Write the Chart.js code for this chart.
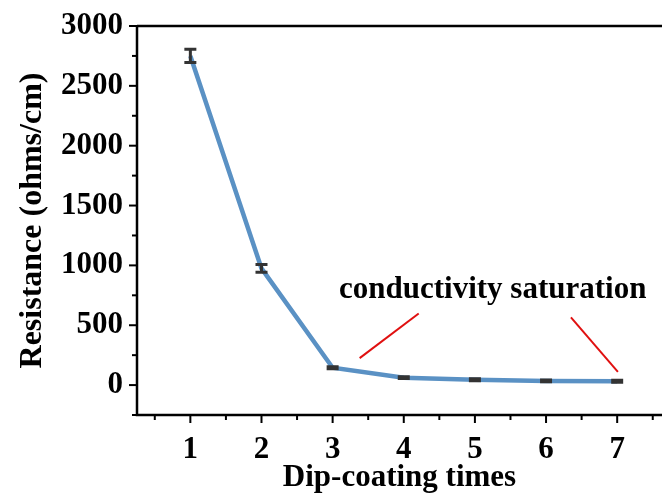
<!DOCTYPE html>
<html>
<head>
<meta charset="utf-8">
<script src="https://cdn.jsdelivr.net/npm/chart.js@4.4.0/dist/chart.umd.min.js"></script>
<style>
  html, body { margin: 0; padding: 0; background: #fff; }
  #wrap { width: 662px; height: 497px; }
</style>
</head>
<body>
<div id="wrap"><canvas id="resChart" width="662" height="497"></canvas></div>
<script>
// data
const dipTimes = [1, 2, 3, 4, 5, 6, 7];
const resistance = [2750, 975, 145, 62, 45, 35, 32];
const resErr = [55, 33, 8, 8, 8, 8, 8];
const xTicks = [1, 2, 3, 4, 5, 6, 7];
const yTicks = [0, 500, 1000, 1500, 2000, 2500, 3000];
const noteText = 'conductivity saturation';
// annotation lines in data units: [x1, y1, x2, y2]
const noteLines = [
    [3.38, 225, 4.21, 598],
    [6.35, 565, 7.01, 110]
];

const serif = '"Liberation Serif", "Times New Roman", serif';

// error bars, ticks, frame and the note
const extrasPlugin = {
    id: 'extras',
    afterDatasetsDraw(chart) {
        const ctx = chart.ctx;
        const xs = chart.scales.x;
        const ys = chart.scales.y;
        const area = chart.chartArea;

        // error bars
        ctx.save();
        ctx.strokeStyle = '#333';
        ctx.lineWidth = 3;
        dipTimes.forEach((t, i) => {
            const px = xs.getPixelForValue(t);
            const top = ys.getPixelForValue(resistance[i] + resErr[i]);
            const bot = ys.getPixelForValue(resistance[i] - resErr[i]);
            ctx.beginPath();
            ctx.moveTo(px, top); ctx.lineTo(px, bot);
            ctx.moveTo(px - 6, top); ctx.lineTo(px + 6, top);
            ctx.moveTo(px - 6, bot); ctx.lineTo(px + 6, bot);
            ctx.stroke();
        });
        ctx.restore();

        // frame: left, bottom, top
        ctx.save();
        ctx.strokeStyle = '#000';
        ctx.lineWidth = 2.5;
        ctx.beginPath();
        ctx.moveTo(area.left, area.top);
        ctx.lineTo(chart.width, area.top);
        ctx.moveTo(area.left, area.top);
        ctx.lineTo(area.left, area.bottom);
        ctx.lineTo(chart.width, area.bottom);
        ctx.stroke();

        // x ticks every 0.5
        ctx.lineWidth = 2;
        for (let v = 0.5; v <= xs.max; v += 0.5) {
            const px = xs.getPixelForValue(v);
            const len = Number.isInteger(v) ? 8 : 5;
            ctx.beginPath();
            ctx.moveTo(px, area.bottom);
            ctx.lineTo(px, area.bottom + len);
            ctx.stroke();
        }
        // y ticks every 250
        for (let v = -250; v <= ys.max; v += 250) {
            const py = ys.getPixelForValue(v);
            const len = v % 500 === 0 ? 8 : 5;
            ctx.beginPath();
            ctx.moveTo(area.left, py);
            ctx.lineTo(area.left - len, py);
            ctx.stroke();
        }
        ctx.restore();

        // annotation
        ctx.save();
        ctx.strokeStyle = '#e01010';
        ctx.lineWidth = 2;
        noteLines.forEach(l => {
            ctx.beginPath();
            ctx.moveTo(xs.getPixelForValue(l[0]), ys.getPixelForValue(l[1]));
            ctx.lineTo(xs.getPixelForValue(l[2]), ys.getPixelForValue(l[3]));
            ctx.stroke();
        });
        ctx.fillStyle = '#000';
        ctx.font = 'bold 31px ' + serif;
        ctx.textAlign = 'center';
        ctx.textBaseline = 'alphabetic';
        ctx.fillText(noteText, xs.getPixelForValue(5.25), ys.getPixelForValue(730));
        ctx.restore();
    }
};

const ctx = document.querySelector('#resChart').getContext('2d');
new Chart(ctx, {
    type: 'line',
    data: {
        datasets: [{
            label: 'Resistance',
            data: dipTimes.map((t, i) => ({ x: t, y: resistance[i] })),
            borderColor: '#5a91c4',
            borderWidth: 4.5,
            pointRadius: 0,
            tension: 0,
        }]
    },
    options: {
        responsive: false,
        animation: false,
        layout: { padding: { top: 26, right: 0, left: 0, bottom: 0 } },
        plugins: {
            legend: { display: false },
            tooltip: { enabled: false }
        },
        scales: {
            x: {
                type: 'linear',
                min: 0.25,
                max: 7.63,
                border: { display: false },
                grid: { display: false, drawTicks: false },
                afterBuildTicks: scale => {
                    scale.ticks = xTicks.map(v => ({ value: v }));
                },
                afterFit: scale => {
                    scale.height = 82;
                    scale.paddingLeft = 0;
                    scale.paddingRight = 0;
                },
                ticks: {
                    padding: 16,
                    color: '#000',
                    maxRotation: 0,
                    font: { family: serif, size: 31, weight: 'bold' }
                },
                title: {
                    display: true,
                    text: 'Dip-coating times',
                    color: '#000',
                    padding: { top: 0, bottom: 0 },
                    font: { family: serif, size: 31, weight: 'bold' }
                }
            },
            y: {
                min: -250,
                max: 3000,
                border: { display: false },
                grid: { display: false, drawTicks: false },
                afterBuildTicks: scale => {
                    scale.ticks = yTicks.map(v => ({ value: v }));
                },
                afterFit: scale => {
                    scale.width = 137;
                    scale.paddingTop = 0;
                    scale.paddingBottom = 0;
                },
                ticks: {
                    padding: 14,
                    color: '#000',
                    font: { family: serif, size: 31, weight: 'bold' },
                    callback: v => String(v)
                },
                title: {
                    display: true,
                    text: 'Resistance (ohms/cm)',
                    color: '#000',
                    padding: { top: 14, bottom: 0 },
                    font: { family: serif, size: 32, weight: 'bold' }
                }
            }
        }
    },
    plugins: [extrasPlugin]
});
</script>
</body>
</html>
